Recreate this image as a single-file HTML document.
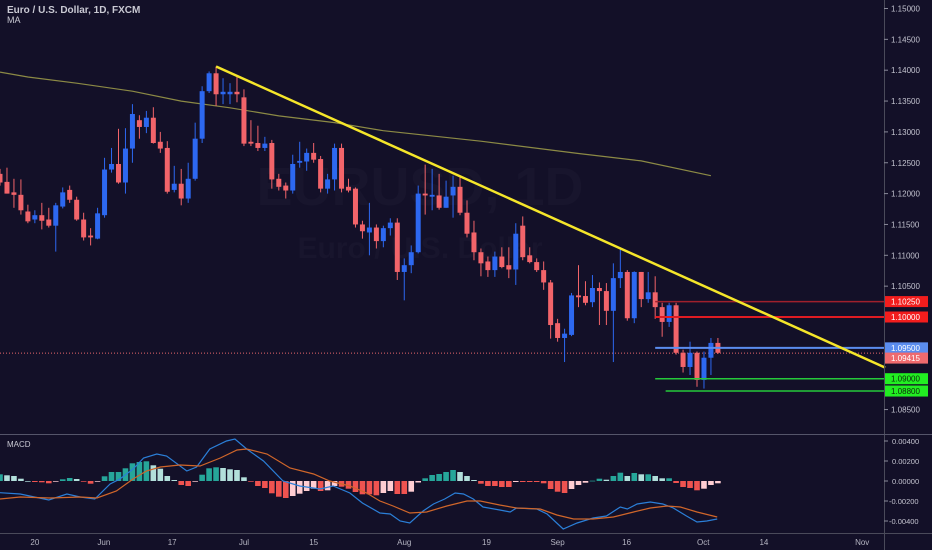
<!DOCTYPE html>
<html><head><meta charset="utf-8"><style>
html,body{margin:0;padding:0;background:#131028;}
svg{display:block;font-family:"Liberation Sans",sans-serif;}
</style></head><body>
<svg id="chart" width="932" height="550" viewBox="0 0 932 550" xmlns="http://www.w3.org/2000/svg">
<rect x="0" y="0" width="932" height="550" fill="#131028"/>
<text x="420" y="205" font-size="54" font-weight="bold" fill="#ffffff" fill-opacity="0.025" text-anchor="middle">EURUSD, 1D</text>
<text x="420" y="258" font-size="30" font-weight="bold" fill="#ffffff" fill-opacity="0.025" text-anchor="middle">Euro / U.S. Dollar</text>
<g id="main"></g>
<g id="macd"></g>
<line x1="884.5" y1="0" x2="884.5" y2="550" stroke="#4a4a5a" stroke-width="1"/>
<line x1="0" y1="434.5" x2="932" y2="434.5" stroke="#55556a" stroke-width="1"/>
<line x1="0" y1="533.5" x2="932" y2="533.5" stroke="#4a4a5a" stroke-width="1"/>
<g id="axes"></g>
<text x="7" y="13" font-size="10" font-weight="bold" fill="#c9c9d3">Euro / U.S. Dollar, 1D, FXCM</text>
<text x="7" y="23" font-size="9" fill="#c9c9d3">MA</text>
<text x="7" y="447" font-size="8" fill="#c9c9d3">MACD</text>
</svg>
<script>
const openP=[1.1232,1.1219,1.1202,1.1198,1.1171,1.1158,1.1165,1.1158,1.1148,1.1179,1.1206,1.1190,1.1158,1.1132,1.1127,1.1165,1.1239,1.1248,1.1218,1.1273,1.1319,1.1308,1.1323,1.1284,1.1274,1.1206,1.1216,1.1192,1.1224,1.1289,1.1366,1.1395,1.1361,1.1361,1.1365,1.1356,1.1284,1.1282,1.1274,1.1282,1.1224,1.1213,1.1205,1.1250,1.1252,1.1266,1.1256,1.1208,1.1223,1.1274,1.1211,1.1208,1.1150,1.1137,1.1145,1.1123,1.1144,1.1153,1.1073,1.1084,1.1105,1.1200,1.1195,1.1197,1.1177,1.1197,1.1211,1.1169,1.1137,1.1105,1.1090,1.1076,1.1098,1.1084,1.1077,1.1148,1.1100,1.1089,1.1076,1.1056,1.0990,1.0966,1.0971,1.1035,1.1034,1.1024,1.1047,1.1042,1.1010,1.1063,1.1073,1.0998,1.1073,1.1029,1.1040,1.1016,1.0992,1.1019,1.0942,1.0919,1.0942,1.0898,1.0934,1.0958];
const highP=[1.1240,1.1242,1.1224,1.1223,1.1182,1.1173,1.1185,1.1177,1.1185,1.1210,1.1213,1.1195,1.1169,1.1144,1.1177,1.1258,1.1274,1.1305,1.1306,1.1345,1.1327,1.1334,1.1340,1.1300,1.1285,1.1245,1.1240,1.1250,1.1315,1.1374,1.1398,1.1406,1.1387,1.1379,1.1390,1.1369,1.1319,1.1310,1.1292,1.1287,1.1232,1.1218,1.1263,1.1284,1.1273,1.1282,1.1261,1.1232,1.1281,1.1281,1.1224,1.1210,1.1156,1.1185,1.1150,1.1148,1.1160,1.1160,1.1095,1.1116,1.1213,1.1247,1.1240,1.1232,1.1221,1.1229,1.1227,1.1189,1.1156,1.1111,1.1098,1.1106,1.1113,1.1113,1.1152,1.1163,1.1113,1.1095,1.1090,1.1060,1.0997,1.0981,1.1039,1.1084,1.1058,1.1068,1.1056,1.1055,1.1087,1.1110,1.1076,1.1074,1.1073,1.1073,1.1066,1.1023,1.1023,1.1023,1.0947,1.0960,1.0944,1.0944,1.0966,1.0966];
const lowP=[1.1213,1.1200,1.1177,1.1166,1.1152,1.1152,1.1142,1.1145,1.1106,1.1176,1.1185,1.1156,1.1124,1.1116,1.1126,1.1161,1.1234,1.1216,1.1200,1.1250,1.1289,1.1298,1.1281,1.1266,1.1200,1.1202,1.1181,1.1185,1.1221,1.1282,1.1363,1.1342,1.1345,1.1345,1.1348,1.1277,1.1277,1.1269,1.1269,1.1208,1.1205,1.1192,1.1200,1.1242,1.1237,1.1250,1.1202,1.1200,1.1205,1.1202,1.1202,1.1145,1.1127,1.1100,1.1111,1.1113,1.1132,1.1060,1.1027,1.1071,1.1103,1.1166,1.1173,1.1174,1.1177,1.1161,1.1165,1.1129,1.1092,1.1066,1.1065,1.1065,1.1079,1.1063,1.1052,1.1092,1.1087,1.1073,1.1044,1.0965,1.0960,1.0927,1.0969,1.1016,1.1019,1.1016,1.0987,1.0987,1.0927,1.1047,1.0994,1.0990,1.1016,1.1023,1.0997,1.0968,1.0984,1.0939,1.0910,1.0906,1.0887,1.0884,1.0906,1.0940];
const closeP=[1.1218,1.1200,1.1198,1.1173,1.1155,1.1165,1.1156,1.1148,1.1181,1.1202,1.1190,1.1158,1.1129,1.1129,1.1168,1.1239,1.1248,1.1218,1.1273,1.1329,1.1308,1.1323,1.1282,1.1273,1.1203,1.1216,1.1192,1.1224,1.1289,1.1366,1.1395,1.1361,1.1365,1.1365,1.1361,1.1281,1.1281,1.1274,1.1281,1.1223,1.1211,1.1205,1.1248,1.1253,1.1266,1.1255,1.1208,1.1223,1.1274,1.1208,1.1205,1.1150,1.1139,1.1145,1.1123,1.1144,1.1153,1.1073,1.1084,1.1105,1.1200,1.1197,1.1198,1.1177,1.1195,1.1211,1.1169,1.1135,1.1105,1.1087,1.1076,1.1098,1.1081,1.1077,1.1135,1.1097,1.1089,1.1076,1.1056,1.0987,1.0966,1.0973,1.1035,1.1032,1.1023,1.1047,1.1042,1.1010,1.1063,1.1073,1.0998,1.1073,1.1029,1.1040,1.1016,1.0992,1.1019,1.0942,1.0919,1.0942,1.0898,1.0934,1.0958,1.0942];
const maIdx=[0,4,11,19,26,33,40,48,55,69,83,92,102];
const maVal=[1.1397,1.1389,1.1379,1.1366,1.1350,1.1339,1.1326,1.1315,1.1302,1.1285,1.1265,1.1253,1.1229];
const trendIdx=[31,127];
const trendVal=[1.1406,1.0918];
const levelPrices=[1.1025,1.1000,1.0950,1.0900,1.0880];
const levelLabels=["1.10250","1.10000","1.09500","1.09000","1.08800"];
const levelStart=[94,94,94,94,95.5];
const lastPrice=1.09415;
const priceTicks=[1.15,1.145,1.14,1.135,1.13,1.125,1.12,1.115,1.11,1.105,1.085];
const histVals=[0.00067,0.00057,0.0005,0.00023,0,-0.0001,-0.00013,-0.00023,-0.00003,0.00017,0.0003,0.0002,-0.00007,-0.00027,-0.00007,0.00047,0.0009,0.0009,0.00127,0.00177,0.0019,0.00197,0.00157,0.00123,0.0005,0.0001,-0.0004,-0.0005,-0.00005,0.00063,0.00127,0.00137,0.0013,0.00117,0.0011,0.00037,-0.00007,-0.0005,-0.0007,-0.00123,-0.00157,-0.0017,-0.0015,-0.00127,-0.001,-0.00077,-0.001,-0.00093,-0.0005,-0.00057,-0.00077,-0.0011,-0.00133,-0.00133,-0.00143,-0.0012,-0.001,-0.0013,-0.0013,-0.00107,-0.00015,0.00027,0.0006,0.0007,0.0009,0.0011,0.0009,0.0005,0.0001,-0.00027,-0.0005,-0.0005,-0.0006,-0.0006,-0.0001,-0.0001,-0.0001,-0.0001,-0.00023,-0.0008,-0.00107,-0.0012,-0.0008,-0.0004,-0.00017,0.00003,0.00023,0.00013,0.0005,0.00083,0.0005,0.0008,0.00067,0.00067,0.0005,0.00027,0.00027,-0.0002,-0.0006,-0.0007,-0.00093,-0.00077,-0.0004,-0.00023];
const macdIdx=[0,2.9,7,9.6,11.5,13.6,15.8,17.2,19.1,20.6,22.5,23.9,26.8,28.2,30.1,32.5,33.7,35.4,37.8,40.6,43,45.9,47.8,50.2,52,54.5,56,57.4,58.8,60.7,62.2,63.8,65.3,66.5,67.9,69.3,71.7,73.2,74.1,77,78.5,80.8,82.8,85.1,87,89,90,91.4,93.3,95.1,96.6,98.5,100,101.4,102.9];
const macdVal=[-0.00117,-0.0013,-0.0019,-0.0013,-0.0016,-0.0018,-0.0003,0.0002,0.0012,0.0023,0.0027,0.0025,0.001,0.0014,0.0032,0.004,0.0042,0.0032,0.002,0,-0.0005,-0.0008,-0.0005,-0.0012,-0.0022,-0.0032,-0.0033,-0.004,-0.0042,-0.003,-0.0023,-0.0018,-0.0012,-0.0013,-0.0018,-0.0026,-0.0029,-0.0031,-0.0027,-0.0028,-0.0033,-0.0048,-0.0042,-0.0037,-0.0035,-0.0026,-0.0028,-0.0023,-0.0021,-0.0023,-0.0027,-0.0035,-0.0041,-0.004,-0.0038];
const sigIdx=[0,2.9,7.2,11.5,13.9,16.7,19.1,21,23,25.8,28.7,31.6,34,35.4,38.3,41.6,45,47.3,50.2,52.6,54.5,56.4,58.8,61.2,64.1,67,68.9,71.7,74.1,77.5,79.9,82.3,85.1,88,90.9,93.3,95.7,97.6,100,102.9];
const sigVal=[-0.0018,-0.0016,-0.0017,-0.0016,-0.0017,-0.001,0.0002,0.001,0.0014,0.0016,0.0015,0.0023,0.0031,0.0032,0.0027,0.0013,0.0007,0,-0.0005,-0.0012,-0.002,-0.0025,-0.0032,-0.0031,-0.0025,-0.002,-0.002,-0.0024,-0.0027,-0.0028,-0.0034,-0.0038,-0.0038,-0.0036,-0.0031,-0.0027,-0.0025,-0.0026,-0.0031,-0.0036];
const macdTicks=[0.004,0.002,0,-0.002,-0.004];
const dateLabels=["20","Jun","17","Jul","15","Aug","19","Sep","16","Oct","14","Nov"];
const dateIdx=[5,14.9,24.7,35,45,58,69.8,80,89.9,100.9,109.6,123.7];

const NS="http://www.w3.org/2000/svg";
const STEP=6.97;
function xAt(i){return i*STEP;}
function yP(p){return 317-(p-1.1)*6170;}
function yM(v){return 481-v*10000;}
function mk(tag,attrs,parent){const e=document.createElementNS(NS,tag);for(const k in attrs)e.setAttribute(k,attrs[k]);parent.appendChild(e);return e;}
const main=document.getElementById('main'),macd=document.getElementById('macd'),axes=document.getElementById('axes');

let d='';maIdx.forEach((i,k)=>{d+=(k?'L':'M')+xAt(i).toFixed(1)+' '+yP(maVal[k]).toFixed(1);});
const ma=mk('path',{d:d,fill:'none',stroke:'#8c8a45','stroke-width':1.2},main);



const cp=mk('line',{x1:0,x2:884,y1:yP(lastPrice),y2:yP(lastPrice),stroke:'#e8676b','stroke-width':1,'stroke-dasharray':'1 2'},main);



for(let i=0;i<openP.length;i++){
  const up=closeP[i]>=openP[i];const col=up?'#2d68f0':'#f2646a';const x=xAt(i);
  const g=mk('g',{},main);
  
  
  mk('line',{x1:x,x2:x,y1:yP(highP[i]),y2:yP(lowP[i]),stroke:col,'stroke-width':1},g);
  const top=yP(Math.max(openP[i],closeP[i])),bot=yP(Math.min(openP[i],closeP[i]));
  mk('rect',{x:x-2.5,y:top,width:5,height:Math.max(1,bot-top),fill:col},g);
}

const levelColors=['#a0202c','#e01b22','#5b8def','#25c93a','#25c93a'];
const levelWidths=[1.5,2,2,1.5,1.5];
levelPrices.forEach((p,k)=>{
  const l=mk('line',{x1:xAt(levelStart[k]),x2:884,y1:yP(p),y2:yP(p),stroke:levelColors[k],'stroke-width':levelWidths[k]},main);
  
  
});

const tl=mk('line',{x1:xAt(trendIdx[0]),y1:yP(trendVal[0]),x2:xAt(trendIdx[1]),y2:yP(trendVal[1]),stroke:'#f5e62a','stroke-width':2.5},main);



for(let i=0;i<histVals.length;i++){
  const v=histVals[i],pv=i?histVals[i-1]:v;let col;
  if(v>=0)col=(v>=pv)?'#26a69a':'#b2dfdb';else col=(v<=pv)?'#ef5350':'#ffcdd2';
  const y0=yM(0),y1=yM(v);
  const r=mk('rect',{x:xAt(i)-2.8,y:Math.min(y0,y1),width:5.6,height:Math.max(0.7,Math.abs(y1-y0)),fill:col},macd);
  
  
}
function linePath(ix,vals){let s='';ix.forEach((i,k)=>{s+=(k?'L':'M')+xAt(i).toFixed(1)+' '+yM(vals[k]).toFixed(1);});return s;}
const ml=mk('path',{d:linePath(macdIdx,macdVal),fill:'none',stroke:'#2b7fd8','stroke-width':1.2},macd);


const sl=mk('path',{d:linePath(sigIdx,sigVal),fill:'none',stroke:'#d0662a','stroke-width':1.2},macd);



priceTicks.forEach(p=>{
  const y=yP(p);
  const t=mk('line',{x1:884,x2:888,y1:y,y2:y,stroke:'#8a8a9a'},axes);
  
  
  const tx=mk('text',{x:891,y:y+3,'font-size':8,fill:'#c3c3cf'},axes);
  tx.textContent=p.toFixed(5);
  
  
});
const labelBg=['#f21d1d','#f21d1d','#5b8def','#22ee22','#22ee22'];
const labelFg=['#ffffff','#ffffff','#ffffff','#0b2a0b','#0b2a0b'];
function tag(p,text,bg,fg,name,off){
  const y=yP(p)+off;
  const g=mk('g',{},axes);
  
  
  mk('rect',{x:885,y:y-5.5,width:43,height:11,fill:bg},g);
  const t=mk('text',{x:891,y:y+3,'font-size':8,fill:fg},g);
  t.textContent=text;
}
levelPrices.forEach((p,k)=>tag(p,levelLabels[k],labelBg[k],labelFg[k],'level-label-'+levelLabels[k],0));
tag(lastPrice,lastPrice.toFixed(5),'#ef6a6e','#ffffff','last-price-label',5);

macdTicks.forEach(v=>{
  const y=yM(v);
  mk('line',{x1:884,x2:888,y1:y,y2:y,stroke:'#8a8a9a'},axes);
  const t=mk('text',{x:v<0?889:892,y:y+3,'font-size':7.5,fill:'#c3c3cf'},axes);
  t.textContent=v.toFixed(5);
  
  
});
dateLabels.forEach((s,k)=>{
  const t=mk('text',{x:xAt(dateIdx[k]),y:545,'font-size':8,fill:'#b5b5c2','text-anchor':'middle'},axes);
  t.textContent=s;
  
  
});
</script>
</body></html>
